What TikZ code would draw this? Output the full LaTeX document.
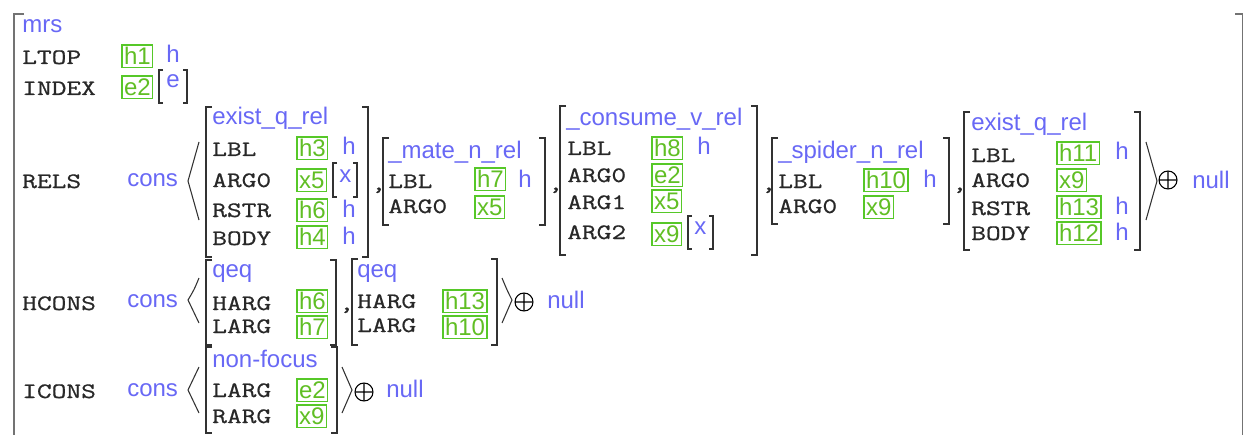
\documentclass[tikz,border=0pt]{standalone}
\usepackage{fontspec}
\usepackage{xcolor}
\newfontfamily\featfont{Latin Modern Mono}[FakeStretch=1.3,FakeBold=0.7]
\newfontfamily\typefont{Liberation Sans}
\definecolor{typeblue}{RGB}{104,104,245}
\definecolor{tagline}{RGB}{86,200,40}
\definecolor{tagtext}{RGB}{96,190,36}
\definecolor{featgray}{RGB}{40,40,40}
\definecolor{brkgray}{RGB}{50,50,50}
\tikzset{
  feat/.style={font=\featfont\fontsize{16.5}{18}\selectfont, text=featgray, anchor=base west, inner sep=0pt},
  typ/.style={font=\typefont\fontsize{18}{20}\selectfont, text=typeblue, anchor=base west, inner sep=0pt},
  tagbox/.style={draw=tagline, line width=1pt, font=\typefont\fontsize{18}{20}\selectfont, text=tagtext,
    anchor=north west, inner xsep=1.5pt, inner ysep=1pt, text height=13.3pt, text depth=1.7pt, outer sep=0pt},
  brk/.style={draw=brkgray, line width=1.1pt},
  ang/.style={draw=brkgray, line width=0.8pt},
  oplus/.style={draw=black, line width=0.8pt}
}

\begin{document}
\begin{tikzpicture}[x=0.75pt,y=0.75pt,yscale=-1,xscale=1]
\useasboundingbox (0,0) rectangle (1243,435);

%Shape: outer bracket
\draw [draw=gray!90!black, line width=1.3pt] (24,14) -- (14,14) -- (14,445) ;
\draw [draw=gray!90!black, line width=1.3pt] (1235,14) -- (1243,14) -- (1243,445) ;

% Text Node
\draw (22,33) node [typ] (mrs) {mrs};
% Text Node
\draw (22,64) node [feat] (ltop) {LTOP};
\draw (122,45) node [tagbox] (h1) {h1};
\draw (166,63) node [typ] (ltoph) {h};
% Text Node
\draw (22,95) node [feat] (index) {INDEX};
\draw (122,76) node [tagbox] (e2) {e2};
\draw [brk] (163,70) -- (159,70) -- (159,103) -- (163,103) ;
\draw [brk] (183,70) -- (187,70) -- (187,103) -- (183,103) ;
\draw (166,88) node [typ] (indexe) {e};

% RELS
\draw (22,188) node [feat] (rels) {RELS};
\draw (127,186) node [typ] (relscons) {cons};
\draw [ang] (199,142) .. controls (194,162) .. (188,181) .. controls (194,200) .. (199,220) ;

%Shape: exist_q_rel
\draw [brk] (212,107) -- (206,107) -- (206,257) -- (212,257) ;
\draw [brk] (362,107) -- (368,107) -- (368,257) -- (362,257) ;
\draw (212,125) node [typ] (ep1) {exist\_q\_rel};
\draw (212,156) node [feat] (ep1lbl) {LBL};
\draw (212,187) node [feat] (ep1arg) {ARG0};
\draw (212,217) node [feat] (ep1rstr) {RSTR};
\draw (212,245) node [feat] (ep1body) {BODY};
\draw (297,137) node [tagbox] (h3) {h3};
\draw (297,169) node [tagbox] (x5a) {x5};
\draw (297,199) node [tagbox] (h6a) {h6};
\draw (297,226) node [tagbox] (h4) {h4};
\draw (342,155) node [typ] {h};
\draw (342,217) node [typ] {h};
\draw (342,244) node [typ] {h};
\draw [brk] (337,163) -- (333,163) -- (333,197) -- (337,197) ;
\draw [brk] (353,163) -- (357,163) -- (357,197) -- (353,197) ;
\draw (339,182) node [typ] {x};
\draw (371,190) node [feat] (comma1) {,};

%Shape: _mate_n_rel
\draw [brk] (389,138) -- (383,138) -- (383,225) -- (389,225) ;
\draw [brk] (539,138) -- (545,138) -- (545,225) -- (539,225) ;
\draw (388,158) node [typ] (ep2) {\_mate\_n\_rel};
\draw (388,188) node [feat] (ep2lbl) {LBL};
\draw (388,213) node [feat] (ep2arg) {ARG0};
\draw (475,168) node [tagbox] (h7a) {h7};
\draw (475,196) node [tagbox] (x5b) {x5};
\draw (518,187) node [typ] {h};
\draw (548,190) node [feat] (comma2) {,};

%Shape: _consume_v_rel
\draw [brk] (566,106) -- (560,106) -- (560,255) -- (566,255) ;
\draw [brk] (751,106) -- (757,106) -- (757,255) -- (751,255) ;
\draw (566,126) node [typ] (ep3) {\_consume\_v\_rel};
\draw (567,155) node [feat] (ep3lbl) {LBL};
\draw (567,182) node [feat] (ep3arg0) {ARG0};
\draw (567,209) node [feat] (ep3arg1) {ARG1};
\draw (567,239) node [feat] (ep3arg2) {ARG2};
\draw (652,137) node [tagbox] (h8) {h8};
\draw (652,164) node [tagbox] (e2b) {e2};
\draw (652,190) node [tagbox] (x5c) {x5};
\draw (652,223) node [tagbox] (x9a) {x9};
\draw (697,155) node [typ] {h};
\draw [brk] (692,216) -- (688,216) -- (688,249) -- (692,249) ;
\draw [brk] (709,216) -- (713,216) -- (713,249) -- (709,249) ;
\draw (694,234) node [typ] {x};
\draw (761,190) node [feat] (comma3) {,};

%Shape: _spider_n_rel
\draw [brk] (778,138) -- (772,138) -- (772,224) -- (778,224) ;
\draw [brk] (943,138) -- (949,138) -- (949,224) -- (943,224) ;
\draw (778,158) node [typ] (ep4) {\_spider\_n\_rel};
\draw (778,188) node [feat] (ep4lbl) {LBL};
\draw (778,213) node [feat] (ep4arg) {ARG0};
\draw (864,169) node [tagbox] (h10a) {h10};
\draw (864,196) node [tagbox] (x9b) {x9};
\draw (923,187) node [typ] {h};
\draw (952,190) node [feat] (comma4) {,};

%Shape: exist_q_rel
\draw [brk] (970,112) -- (964,112) -- (964,250) -- (970,250) ;
\draw [brk] (1134,112) -- (1140,112) -- (1140,250) -- (1134,250) ;
\draw (971,131) node [typ] (ep5) {exist\_q\_rel};
\draw (971,162) node [feat] (ep5lbl) {LBL};
\draw (971,187) node [feat] (ep5arg) {ARG0};
\draw (971,215) node [feat] (ep5rstr) {RSTR};
\draw (971,240) node [feat] (ep5body) {BODY};
\draw (1057,142) node [tagbox] (h11) {h11};
\draw (1057,169) node [tagbox] (x9c) {x9};
\draw (1057,196) node [tagbox] (h13a) {h13};
\draw (1057,222) node [tagbox] (h12) {h12};
\draw (1115,160) node [typ] {h};
\draw (1115,214) node [typ] {h};
\draw (1115,240) node [typ] {h};

\draw [ang] (1146,142) .. controls (1151,162) .. (1157,181) .. controls (1151,200) .. (1146,220) ;
\draw [oplus] (1168,180) circle (9) (1159,180) -- (1177,180) (1168,171) -- (1168,189) ;
\draw (1192,188) node [typ] (relsnull) {null};

% HCONS
\draw (22,310) node [feat] (hcons) {HCONS};
\draw (127,307) node [typ] (hconscons) {cons};
\draw [ang] (199,278) .. controls (194,290) .. (188,300) .. controls (194,311) .. (199,323) ;

%Shape: qeq
\draw [brk] (212,260) -- (206,260) -- (206,345) -- (212,345) ;
\draw [brk] (330,260) -- (336,260) -- (336,345) -- (330,345) ;
\draw (212,277) node [typ] (qeq1) {qeq};
\draw (212,310) node [feat] (q1harg) {HARG};
\draw (212,333) node [feat] (q1larg) {LARG};
\draw (297,290) node [tagbox] (h6b) {h6};
\draw (297,316) node [tagbox] (h7b) {h7};
\draw (339,310) node [feat] (comma5) {,};

%Shape: qeq
\draw [brk] (358,259) -- (352,259) -- (352,345) -- (358,345) ;
\draw [brk] (491,259) -- (497,259) -- (497,345) -- (491,345) ;
\draw (357,277) node [typ] (qeq2) {qeq};
\draw (357,308) node [feat] (q2harg) {HARG};
\draw (357,332) node [feat] (q2larg) {LARG};
\draw (443,290) node [tagbox] (h13b) {h13};
\draw (443,316) node [tagbox] (h10b) {h10};

\draw [ang] (502,278) .. controls (507,290) .. (512,300) .. controls (507,311) .. (502,323) ;
\draw [oplus] (524,302) circle (9) (515,302) -- (533,302) (524,293) -- (524,311) ;
\draw (547,308) node [typ] (hconsnull) {null};

% ICONS
\draw (22,398) node [feat] (icons) {ICONS};
\draw (127,396) node [typ] (iconscons) {cons};
\draw [ang] (199,367) .. controls (194,379) .. (188,390) .. controls (194,401) .. (199,413) ;

%Shape: non-focus
\draw [brk] (212,347) -- (206,347) -- (206,433) -- (212,433) ;
\draw [brk] (331,347) -- (337,347) -- (337,433) -- (331,433) ;
\draw (212,367) node [typ] (nf) {non-focus};
\draw (212,397) node [feat] (nflarg) {LARG};
\draw (212,423) node [feat] (nfrarg) {RARG};
\draw (297,379) node [tagbox] (e2c) {e2};
\draw (297,405) node [tagbox] (x9d) {x9};

\draw [ang] (342,367) .. controls (347,379) .. (352,390) .. controls (347,401) .. (342,413) ;
\draw [oplus] (364,392) circle (9) (355,392) -- (373,392) (364,383) -- (364,401) ;
\draw (386,397) node [typ] (iconsnull) {null};

\end{tikzpicture}
\end{document}
